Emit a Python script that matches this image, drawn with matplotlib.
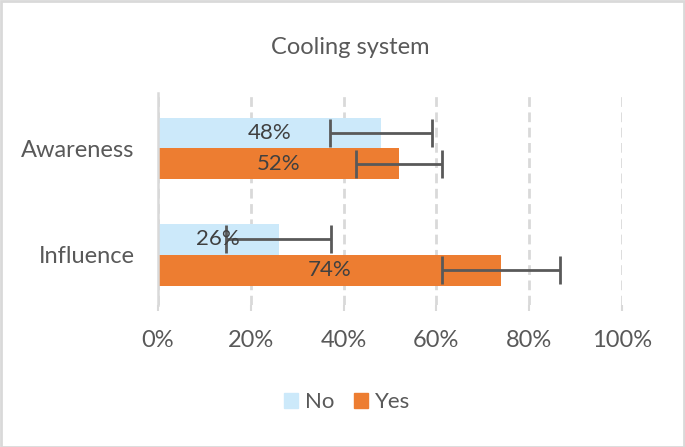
import numpy as np
import matplotlib.pyplot as plt
from matplotlib.patches import Patch, Rectangle

plt.rcParams['font.family'] = ['Lato', 'DejaVu Sans']

# data
categories = ["Influence", "Awareness"]
no_vals = [26, 48]
yes_vals = [74, 52]
no_err = [11.3, 11]
yes_err = [12.7, 9.3]
ticks = [0, 20, 40, 60, 80, 100]

c_no = "#CCE9FA"
c_yes = "#ED7D31"
txt = "#595959"

fig = plt.figure(figsize=(6.85, 4.47), dpi=100)
ax = fig.add_axes([158/685, 1-305/447, (622-158)/685, (305-93)/447])

y = np.arange(len(categories))
h = 0.29
ax.barh(y + h/2, no_vals, height=h, color=c_no, zorder=2)
ax.barh(y - h/2, yes_vals, height=h, color=c_yes, zorder=2)
ax.errorbar(no_vals, y + h/2, xerr=no_err, fmt="none", ecolor=txt,
            elinewidth=2, capsize=10, capthick=2, zorder=3)
ax.errorbar(yes_vals, y - h/2, xerr=yes_err, fmt="none", ecolor=txt,
            elinewidth=2, capsize=10, capthick=2, zorder=3)

for i in range(len(categories)):
    ax.text(no_vals[i]/2, y[i] + h/2, f"{no_vals[i]}%", ha="center", va="center",
            fontsize=16, color="#404040", zorder=4)
    ax.text(yes_vals[i]/2, y[i] - h/2, f"{yes_vals[i]}%", ha="center", va="center",
            fontsize=16, color="#404040", zorder=4)

ax.set_xlim(0, 100)
ax.set_ylim(-0.47, 1.52)
ax.set_xticks(ticks)
ax.set_xticklabels([f"{t}%" for t in ticks], fontsize=17, color=txt)
ax.set_yticks(y)
ax.set_yticklabels(categories, fontsize=17, color=txt)
ax.tick_params(axis="y", length=0, pad=17)
ax.tick_params(axis="x", length=4, color="#D9D9D9", width=1.5, pad=14)
ax.xaxis.grid(True, linestyle=(0, (3.5, 2)), color="#D9D9D9", linewidth=2, zorder=0)
ax.set_axisbelow(True)
for s in ["top", "right", "bottom"]:
    ax.spines[s].set_visible(False)
ax.spines["left"].set_color("#D9D9D9")
ax.spines["left"].set_linewidth(1.8)
ax.spines["left"].set_zorder(5)

fig.text(350/685, 1-47/447, "Cooling system", ha="center", va="center",
         fontsize=17, color=txt)

handles = [Patch(color=c_no, label="No"), Patch(color=c_yes, label="Yes")]
fig.legend(handles=handles, loc="center", bbox_to_anchor=(347/685, 1-402/447),
           ncol=2, frameon=False, fontsize=16, labelcolor=txt,
           handlelength=0.64, handleheight=0.64, handletextpad=0.3, columnspacing=0.9)

fig.patches.append(Rectangle((0.001, 0.001), 0.997, 0.997, transform=fig.transFigure,
                             fill=False, edgecolor="#D9D9D9", linewidth=2))

fig.savefig("out.png", dpi=100)
